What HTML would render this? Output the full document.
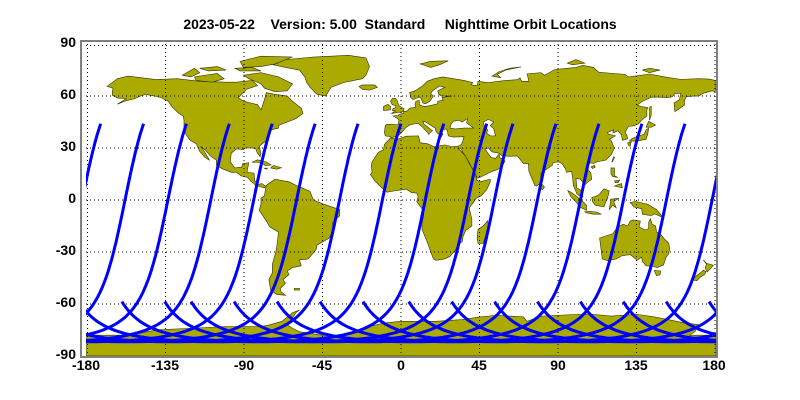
<!DOCTYPE html>
<html><head><meta charset="utf-8"><style>
html,body{margin:0;padding:0;background:#fff;}
body{width:800px;height:400px;overflow:hidden;position:relative;font-family:"Liberation Sans",sans-serif;}
.t{position:absolute;font-weight:bold;font-size:14px;color:#000;white-space:pre;}
.yl{position:absolute;right:724px;font-weight:bold;font-size:14px;text-align:right;}
.xl{position:absolute;top:357px;font-weight:bold;font-size:14px;width:60px;text-align:center;}
</style></head><body>
<div class="t" style="left:0;width:800px;text-align:center;top:16px;">2023-05-22    Version: 5.00  Standard     Nighttime Orbit Locations</div>
<svg width="800" height="400" style="position:absolute;left:0;top:0">
<defs><clipPath id="c"><rect x="86" y="44" width="630" height="312"/></clipPath></defs>
<g clip-path="url(#c)">
<g transform="matrix(1.75,0,0,-1.733,401,200)" fill="#aaaa00" stroke="#333300" stroke-width="0.6">
<g id="land">
<polygon vector-effect="non-scaling-stroke" points="-168,65.6 -162,70 -156,71.5 -140,69.5 -128,70 -115,68.5 -100,68 -94,68 -85,69 -82,66 -88,64 -93,59 -90,57 -82,55 -80,52 -78,58 -77,62 -72,61 -65,60 -62,57 -57,53 -56,50 -60,47 -65,45 -70,43 -70,41.5 -74,40.5 -76,37 -76,35 -81,31 -80,27 -80.5,25 -82,27 -83,29.5 -85,30 -89,30 -90,29 -94,29.5 -97,27 -97.5,22 -95,18.5 -91,19 -90.5,21 -87,21.5 -88,16 -84,15.5 -83.5,11 -81.5,9 -79.5,9.5 -77.5,8 -78,7 -80,7.5 -83,8.5 -86,11 -87.5,13 -91.5,14 -94,16 -97,16 -102,18 -105.5,20 -105.5,23 -109,25.5 -112,29 -114.5,31 -113,29 -110,24 -109.5,23 -112,24.5 -115,28 -117,32.5 -120.5,34.5 -123,38 -124,40.5 -124,46 -124.5,48.5 -127,50 -131,54 -133,57 -137,59 -141,60 -146,61 -150,59.5 -152,58.5 -158,57 -162,55.3 -157,58.5 -162,58.8 -165,60.5 -165,62.5 -164.5,64.5"/>
<polygon vector-effect="non-scaling-stroke" points="-73,78 -66,81 -50,82.5 -30,83.5 -20,82 -18,77 -20,72 -22,70 -32,68 -40,65 -43,60 -48,61 -52,65 -54,68 -55,71 -58,75 -66,76.5"/>
<polygon vector-effect="non-scaling-stroke" points="-90,72 -80,73.5 -70,71 -62,67 -65,63 -72,62.5 -78,64.5 -80,67 -87,70"/>
<polygon vector-effect="non-scaling-stroke" points="-118,71 -105,73 -101,70 -108,68 -117,69"/>
<polygon vector-effect="non-scaling-stroke" points="-92,80 -80,83 -62,82.5 -72,78.5 -80,77 -90,76.5"/>
<polygon vector-effect="non-scaling-stroke" points="-125,72 -118,76 -115,73.5 -120,71"/>
<polygon vector-effect="non-scaling-stroke" points="-115,76 -105,77 -100,75 -110,74.5"/>
<polygon vector-effect="non-scaling-stroke" points="-95,76 -85,76.5 -80,74.5 -92,74.5"/>
<polygon vector-effect="non-scaling-stroke" points="-77,8.5 -72,12 -64,10.5 -60,8.5 -52,5 -50,0 -44,-2.5 -35,-5.5 -35,-9 -39,-13 -39,-17.5 -41,-22 -48,-26 -48.5,-28.5 -53,-34 -58,-34.5 -57,-38 -62,-39 -65,-41 -64,-43 -67.5,-46 -66,-48 -69,-51 -68.5,-53 -66,-55 -71,-54.5 -74.5,-52 -75.5,-46 -73.5,-42 -73.5,-37 -71.5,-30 -70.5,-23 -70,-18.5 -75,-15.5 -77,-12 -81,-6 -80,-2 -80,1 -78,2.5 -77.5,6"/>
<polygon vector-effect="non-scaling-stroke" points="-9,43 -9.5,39 -9,37 -6,36.5 -5.5,36 -2,36.8 0,38.5 3,42 5,43.3 8,44 10,44 12.5,41.8 16,38 15.7,38 18,40 16,41.5 13,44 12.5,45.5 14,45 19.5,41.5 20,39.5 23,36.5 24,38 22.5,40.5 26,41 26.5,40 27,37 30,36.3 36,36.5 35,33 34,31.5 32,31 29,30.8 25,31.8 20,31 19.5,30.5 15,32.5 11,33 10,37 3,36.8 -2,35 -6,35.8 -9.5,32 -10,29 -13,27.5 -16.5,22 -17,20 -16.5,16 -17.5,14.7 -15,11 -13,9 -11,7 -8,4.5 -4,5.2 0,5.8 3,6.3 6,4.3 9,4 9.8,2 9,-1 12,-5 13,-9 12,-13.5 12,-17 14.5,-23 16.5,-28.5 18.5,-34 20,-34.8 25,-34 28,-32.5 31,-29 32.5,-26 35,-24 35.5,-21 37,-17.5 40.5,-15 40.5,-11 39.5,-7 39,-4.5 41,-2 43,1 46,2.5 49,6 51,10.5 51,12 45,10.5 43.3,11.5 42.5,15 39,21 37,25 34.5,28 32.5,30 34.5,29.5 35,28 37,25 39,21.5 42.5,15 43.5,12.7 45,13 52,16.5 55,17.5 57.5,19 59.5,22.5 56.5,24.5 56,26.5 54,24 51.5,24.5 50,26.5 48,29.5 50,30 52,27.8 56,27 57.5,25.6 61.5,25.2 66.5,25.4 68,23.5 70,21 72.8,21 73,17 74.5,13 76.5,8.5 77.5,8 80,10 80,15.5 82,17 86.5,20 87,21.5 90,22 92,21 94,18 94.5,16 97.5,16.5 98,13 98.5,8.5 100.5,3.5 103.5,1.3 104,2 103,5.5 100.5,7 100,12.5 102.5,12 105,8.7 107,10.5 109,12 108.5,15.5 106.5,18 106,20 108,21.5 110,21 112,22 117,23 120,26 122,30 121,32 120,34.5 119,35 122.5,37 121,37.5 118.5,38 118,39 121.5,40.5 121,39 122,39 124,40 126,37.5 126.5,34.5 129.5,35.3 129,37.5 128,39 130,42.5 133,42.8 135.5,43.8 138,46.5 140.5,48.5 140.5,52 141,53.3 137,54 135,54.8 138,57 143,59.3 148,59.3 152,59 155,59.5 156.5,61.5 160,61.5 159,57.8 156,56 156.5,51 158,52 162,54.8 162,57.5 163,59.5 167,60 170,60 173,61.7 178,63 179.5,62.5 180,65 180,68.9 176,69.8 170,70 160,69.6 152,70.8 142,72.7 130,71 128,72.5 122,73 113,73.7 110,76.5 104,77.7 100,76.5 95,76 88,75.3 82,72 80,73.5 72,72.8 72.5,71 73,68.5 69,68.5 68,70.5 66.5,69.4 60,69 54,68.3 50,67.7 44,68.5 43.5,66 40,66.5 41,67.8 36,69 30,70 24,71 19,70 15,68.5 12.5,66 8,63 5,62 5.5,59 7,58 10.5,59.5 11.5,58.5 12.5,56 14,55.5 16.5,57 18.5,60 17,61.5 18,63 22,65.8 25,65 21,63 21.5,61 23,60 29,60 23.5,59.2 24,57.5 21,57 21,55.5 18,54.8 14,54 12,54.3 10.5,55 10.5,57.5 8.5,57 8,55 8.5,53.5 5,53 3.5,51.4 1.6,50.9 1.5,50 -1,49.5 -1.5,48.7 -4.5,48.5 -2,47 -1.2,46 -1.5,43.5 -8,43.7"/>
<polygon vector-effect="non-scaling-stroke" points="44,-25 47,-25 50,-15 49.5,-12 47,-15 44,-17 43.5,-22"/>
<polygon vector-effect="non-scaling-stroke" points="-5,50 1.5,51 1.7,52.8 0,53.5 -1.5,55 -2,57 -3,58.6 -5,58.6 -6,57 -5,55 -3,54.5 -3,53.3 -4.5,52.8 -5,51.7 -3,51.4 -5.5,50"/>
<polygon vector-effect="non-scaling-stroke" points="-6,52 -6,54 -7.5,55.2 -10,54 -10,51.6"/>
<polygon vector-effect="non-scaling-stroke" points="-24,65.5 -22,66.4 -15,66.4 -13.5,65 -18,63.4 -22,63.8"/>
<polygon vector-effect="non-scaling-stroke" points="130.5,34 135,34 140,35 141,38 141.5,41.5 140,40.5 139,38 136,37 132,35.5"/>
<polygon vector-effect="non-scaling-stroke" points="140,42 141.5,45.4 145.5,43.3 143,42"/>
<polygon vector-effect="non-scaling-stroke" points="129.5,33 131.5,33.5 131,31 130,31.5"/>
<polygon vector-effect="non-scaling-stroke" points="142,46 143,49 143,54 142,53.5 142,49"/>
<polygon vector-effect="non-scaling-stroke" points="120.5,22 121.5,25 122,24.5 120.8,22"/>
<polygon vector-effect="non-scaling-stroke" points="108.6,19 110.5,20 111,19 109.5,18.2"/>
<polygon vector-effect="non-scaling-stroke" points="120,18.5 122,18.5 122,14 124,13 121,13.5 120,15"/>
<polygon vector-effect="non-scaling-stroke" points="122,8 126.5,7 126,9.5 123,8.5"/>
<polygon vector-effect="non-scaling-stroke" points="122,11 125,11.5 124,10 122.5,10"/>
<polygon vector-effect="non-scaling-stroke" points="95.3,5.5 98,4 104,-1 106,-3 106,-6 102,-4 100,-1 97,2"/>
<polygon vector-effect="non-scaling-stroke" points="105,-6.8 108,-6.5 112,-7 114.5,-8.2 110,-8.2 106,-7.4"/>
<polygon vector-effect="non-scaling-stroke" points="109,1.5 111,2 113,3 116,6.5 119,5.2 118,0.8 117,-1 116,-4 111,-3 109.5,-1"/>
<polygon vector-effect="non-scaling-stroke" points="119,-5.5 120,0.5 124.5,1 121.5,-1 123,-4.5 121,-3"/>
<polygon vector-effect="non-scaling-stroke" points="131,-1.5 134,-0.8 141,-2.5 146,-5.5 148,-8 150.5,-10.5 145,-8 143,-9 138,-8.3 137.5,-5 133,-4 132,-2.5"/>
<polygon vector-effect="non-scaling-stroke" points="113.5,-22 114,-26 115,-34 118,-35 123,-34 126,-32.3 131,-31.5 135,-34.8 137.5,-33 138,-35.5 140,-38 144,-38.3 146.5,-39 150,-37.5 151.5,-33 153,-31 153.5,-28 153,-25 150.5,-22.5 149,-20.5 146,-18.5 145.5,-15 143.5,-14 142.5,-10.8 141.5,-13 141.5,-16.5 139.5,-17.3 136,-15.5 136.8,-12.2 132.5,-11.5 131,-12.2 129.5,-15 127,-14 125,-15 122.5,-17.3 121,-19.5 117,-20.7"/>
<polygon vector-effect="non-scaling-stroke" points="144.7,-40.7 148.3,-40.9 148,-43.2 146,-43.6"/>
<polygon vector-effect="non-scaling-stroke" points="172.7,-34.5 174.5,-36.5 178.5,-37.7 177,-39.5 175,-41.5 173.8,-39.3 174.5,-37"/>
<polygon vector-effect="non-scaling-stroke" points="172.7,-40.5 174.3,-41.3 173.5,-43 171,-44.5 169,-46.6 166.5,-46 168.5,-44 171.5,-41.7"/>
<polygon vector-effect="non-scaling-stroke" points="80,9.8 82,7.5 81,6 80,6.5"/>
<polygon vector-effect="non-scaling-stroke" points="-85,21.8 -82,23.2 -77,22 -74.2,20.2 -77.5,19.9 -80,21.7"/>
<polygon vector-effect="non-scaling-stroke" points="-74.5,18.5 -72.8,19.9 -68.4,18.6 -71,17.8"/>
<polygon vector-effect="non-scaling-stroke" points="-78.3,18.4 -76.2,18.4 -76.8,17.8"/>
<polygon vector-effect="non-scaling-stroke" points="52,71.5 56,74 62,76 68.5,76.8 60,75 55,72.5 57,70.5"/>
<polygon vector-effect="non-scaling-stroke" points="11,78.5 17,80 27,80.3 22,78 17,76.5"/>
<polygon vector-effect="non-scaling-stroke" points="95,79 100,81 105,79 98,78"/>
<polygon vector-effect="non-scaling-stroke" points="138,75 142,76 148,75 142,73.5"/>
<polygon vector-effect="non-scaling-stroke" points="-61,-51 -58,-51 -58,-52 -61,-52"/>
<polygon vector-effect="non-scaling-stroke" points="-180,-90 -180,-78 -160,-78 -150,-77 -140,-75 -120,-74 -100,-73 -80,-73 -75,-72 -68,-70 -62,-65 -58,-63.5 -60,-65 -62,-68 -65,-72 -62,-74 -58,-76 -45,-78 -35,-78 -28,-76 -20,-73.5 -10,-71 0,-70 20,-70 35,-69 45,-67.5 55,-66.5 70,-67.5 72,-70 80,-67 90,-66.5 100,-66 110,-66 120,-67 135,-66 145,-67.5 160,-70.5 170,-72 168,-76 165,-78 180,-78 180,-90"/>
</g>
<g fill="#fff">
<polygon vector-effect="non-scaling-stroke" points="28,41.5 28.5,43.5 30,45.5 33,46 35,45 38,47 37.5,44.5 41.5,41.5 36,41.5 31,41"/>
<polygon vector-effect="non-scaling-stroke" points="47,45 50,46.5 53,45 51,43 53,41 54,37 51,37 49,38.5 49.5,40.5 47.5,43"/>
</g>
</g>
<g stroke="#000" stroke-width="1" stroke-dasharray="1,3" fill="none">
<path d="M87.5 44V356M165.5 44V356M244 44V356M322.5 44V356M401 44V356M479.5 44V356M558 44V356M636.5 44V356M715 44V356M86 45.5H716M86 96H716M86 148H716M86 200H716M86 252H716M86 304H716"/>
</g>
<g id="tracks" fill="none" stroke="#0000ff" stroke-width="3" stroke-linejoin="round"></g>
</g>
<rect x="81" y="41" width="636" height="316" fill="none" stroke="#808080" stroke-width="2"/>
</svg>
<div class="yl" style="top:34px">90</div>
<div class="yl" style="top:86px">60</div>
<div class="yl" style="top:138px">30</div>
<div class="yl" style="top:190px">0</div>
<div class="yl" style="top:242px">-30</div>
<div class="yl" style="top:294px">-60</div>
<div class="yl" style="top:346px">-90</div>
<div class="xl" style="left:56px">-180</div>
<div class="xl" style="left:135px">-135</div>
<div class="xl" style="left:214px">-90</div>
<div class="xl" style="left:292px">-45</div>
<div class="xl" style="left:371px">0</div>
<div class="xl" style="left:449px">45</div>
<div class="xl" style="left:528px">90</div>
<div class="xl" style="left:606px">135</div>
<div class="xl" style="left:684px">180</div>
<script>
(function(){
var D=Math.PI/180,inc=98.2*D,ci=Math.cos(inc),si=Math.sin(inc);
var u0=135.4,u1=301,rot=21;
var pts=[],prev=null,off=0;
for(var u=u0;u<=u1+0.001;u+=1){
 var r=u*D;var lat=Math.asin(si*Math.sin(r))/D;
 var lam=Math.atan2(ci*Math.sin(r),Math.cos(r))/D;
 if(prev!==null){while(lam+off-prev>180)off-=360;while(lam+off-prev<-180)off+=360;}
 var L=lam+off;prev=L;
 pts.push([L-rot*(u-u0)/360,lat]);
}
var base=pts[0][0];
var tops=[];
for(var k=0;k<10;k++)tops.push(-171.6+24.51*k);
for(var k=0;k<5;k++)tops.push(64+24.57*k);
var g=document.getElementById('tracks'),s='';
for(var t=0;t<tops.length;t++){
 var top=tops[t];
 for(var w=-1;w<=1;w++){
  var d='';
  for(var i=0;i<pts.length;i++){
   var lon=pts[i][0]-base+top+w*360;
   var x=401+lon*1.75,y=200-pts[i][1]*1.733;
   d+=(i?'L':'M')+x.toFixed(1)+' '+y.toFixed(1);
  }
  s+='<path d="'+d+'"/>';
 }
}
g.innerHTML=s;
})();
</script>
</body></html>
